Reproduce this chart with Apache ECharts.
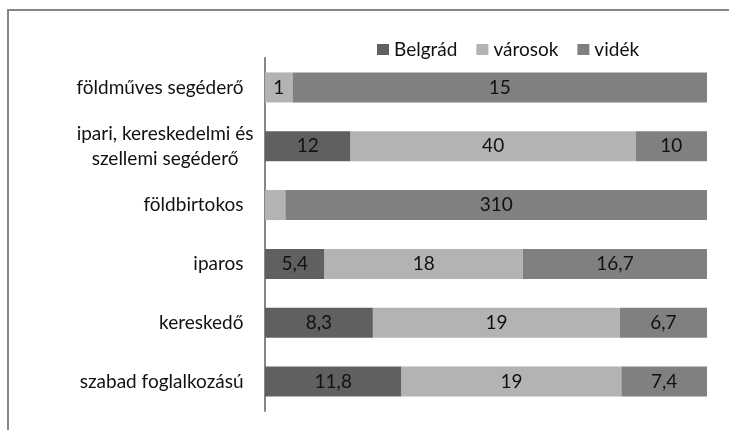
<!DOCTYPE html>
<html>
<head>
<meta charset="utf-8">
<script src="https://cdn.jsdelivr.net/npm/echarts@6/dist/echarts.min.js"></script>
<style>
  html, body { margin: 0; padding: 0; background: #fff; }
  #chart { width: 729px; height: 430px; }
</style>
</head>
<body>
<div id="chart"></div>
<script>
// kategóriák fentről lefelé
const categories = [
  "földműves segéderő",
  "ipari, kereskedelmi és\nszellemi segéderő",
  "földbirtokos",
  "iparos",
  "kereskedő",
  "szabad foglalkozású"
];
const belgrad = [0, 12, 0, 5.4, 8.3, 11.8];
const varosok = [1, 40, 15, 18, 19, 19];
const videk = [15, 10, 310, 16.7, 6.7, 7.4];
// a földbirtokos / városok cellán nincs felirat
const hiddenLabels = [[2, "városok"]];

const font = "Lato, 'Open Sans', sans-serif";
const totals = categories.map((c, i) => belgrad[i] + varosok[i] + videk[i]);

function toPercent(name, arr) {
  return arr.map((v, i) => {
    const hidden = v === 0 || hiddenLabels.some(h => h[0] === i && h[1] === name);
    return {
      value: v / totals[i] * 100,
      raw: v,
      label: { show: !hidden }
    };
  });
}

function makeSeries(name, arr, color) {
  return {
    name: name,
    type: "bar",
    stack: "total",
    barWidth: "51%",
    data: toPercent(name, arr),
    itemStyle: { color: color },
    label: {
      position: "inside",
      color: "#111",
      fontFamily: font,
      fontSize: 19,
      formatter: p => String(p.data.raw).replace(".", ",")
    },
    emphasis: { disabled: true }
  };
}

const chart = echarts.init(document.getElementById("chart"));
chart.setOption({
  animation: false,
  graphic: [{
    type: "rect",
    shape: { x: 8, y: 10, width: 760, height: 460 },
    style: { fill: null, stroke: "#868686", lineWidth: 2 },
    silent: true
  }],
  legend: {
    data: ["Belgrád", "városok", "vidék"],
    top: 35,
    left: 372,
    itemWidth: 12,
    itemHeight: 11,
    itemGap: 19,
    icon: "rect",
    textStyle: { fontFamily: font, fontSize: 19, color: "#111" }
  },
  grid: { left: 265, right: 22, top: 58, bottom: 19 },
  xAxis: {
    type: "value",
    min: 0,
    max: 100,
    show: false
  },
  yAxis: {
    type: "category",
    data: categories,
    inverse: true,
    offset: 1.5,
    axisLine: { show: true, lineStyle: { color: "#868686", width: 2 } },
    axisTick: { show: false },
    axisLabel: {
      margin: 10,
      formatter: v => v.includes("\n") ? v.split("\n").map(s => "{c|" + s + "}").join("\n") : "{r|" + v + "}",
      rich: {
        c: { align: "center", fontFamily: font, fontSize: 19, color: "#111", lineHeight: 25 },
        r: { fontFamily: font, fontSize: 19, color: "#111", padding: [0, 10, 0, 0] }
      }
    }
  },
  series: [
    makeSeries("Belgrád", belgrad, "#606060"),
    makeSeries("városok", varosok, "#b3b3b3"),
    makeSeries("vidék", videk, "#808080")
  ]
});
</script>
</body>
</html>
